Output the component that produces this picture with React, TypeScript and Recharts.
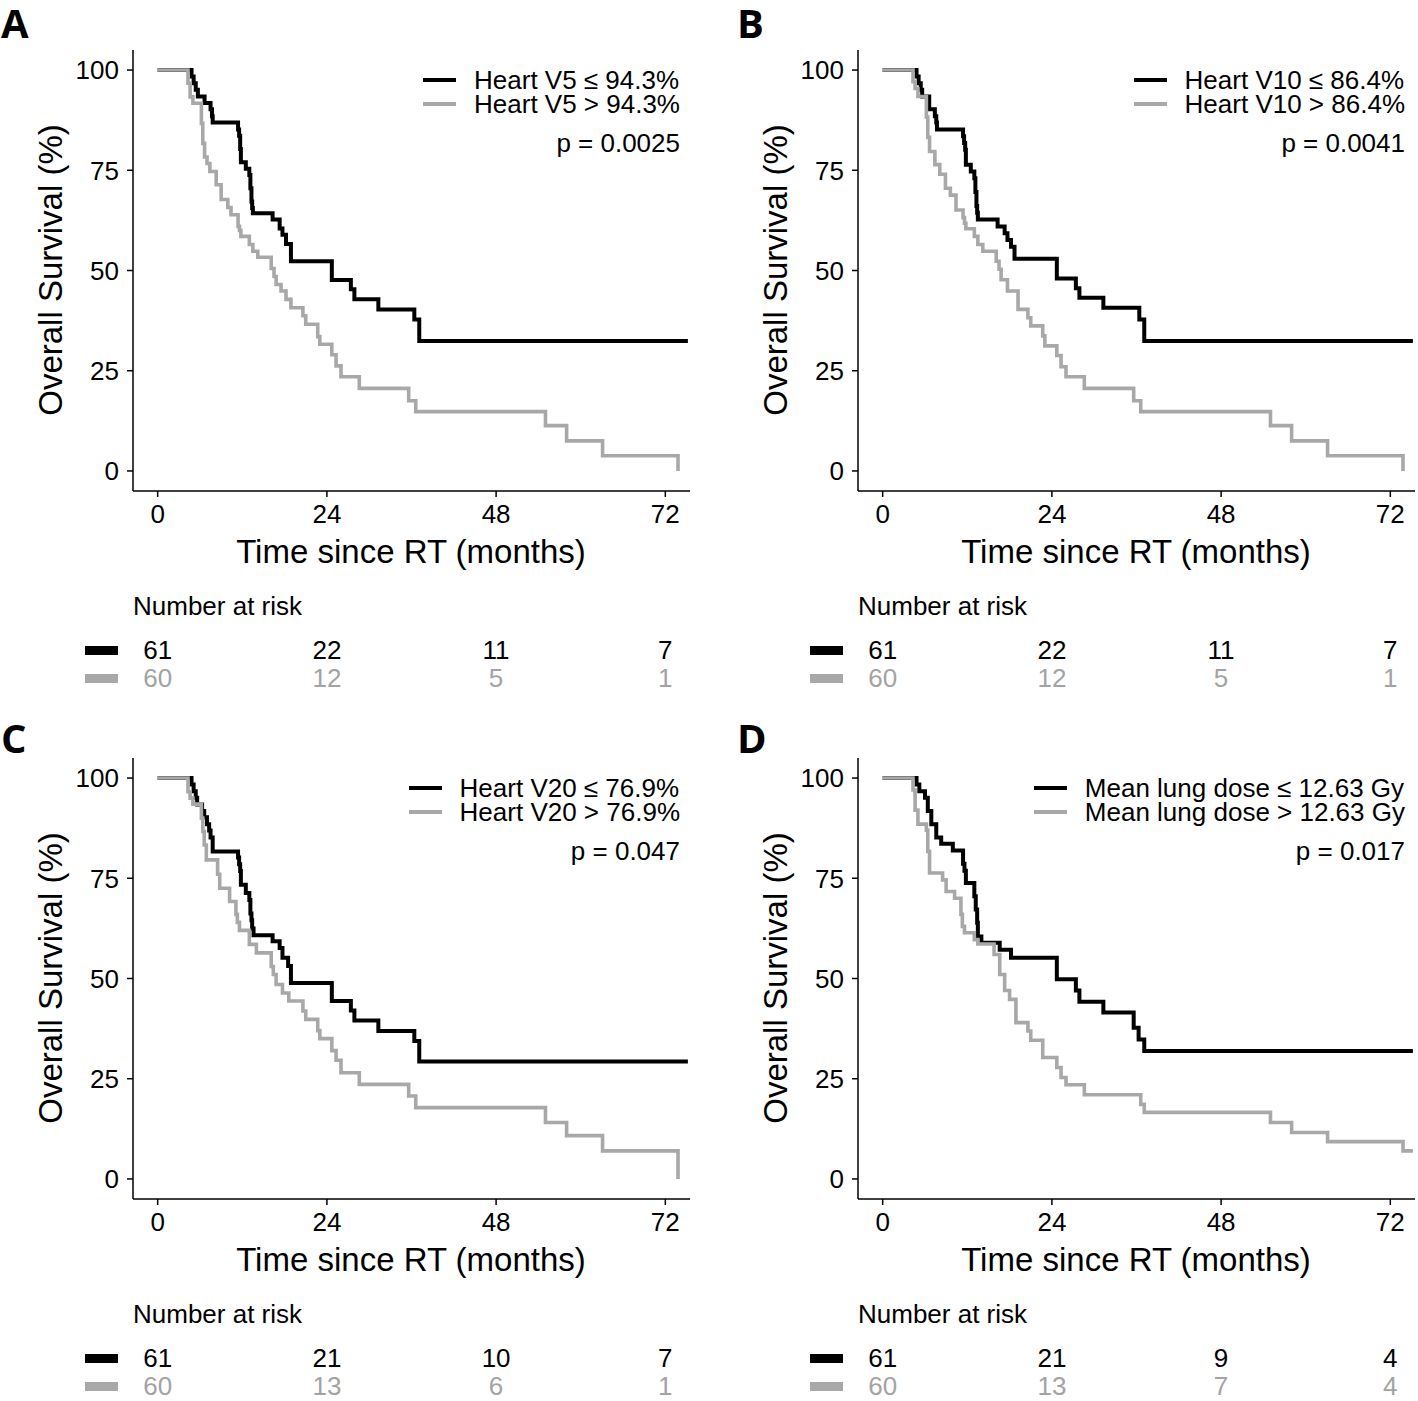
import React from "react";
import { LineChart, Line, XAxis, YAxis } from "recharts";

const FONT = '"Liberation Sans", Arial, Helvetica, sans-serif';
const BLACK = "#000000";
const GREY = "#a8a8a8";
const GREY_TEXT = "#a3a3a3";

const timeTicks = [0, 24, 48, 72];
const survTicks = [0, 25, 50, 75, 100];
const riskTimes = [0, 24, 48, 72];

// Panel A: Heart V5
const aLowT = [0, 4.8, 5.1, 5.4, 5.7, 6.65, 7.5, 7.7, 7.8, 11.4, 11.55, 11.7, 11.8, 12.5, 13.0, 13.15, 13.3, 13.4, 13.5, 16.3, 17.3, 17.7, 18.2, 18.9, 24.7, 27.4, 27.9, 31.3, 36.4, 37.1, 75.2];
const aLowS = [100, 98.4, 96.7, 95.1, 93.4, 91.8, 90.2, 88.5, 86.9, 85.2, 83.6, 80.3, 77.0, 75.4, 73.8, 70.5, 67.2, 65.6, 64.3, 62.7, 60.5, 58.9, 56.6, 52.3, 47.6, 45.3, 42.8, 40.3, 37.8, 32.4, 32.4];
const aHighT = [0, 4.3, 4.6, 5.0, 6.2, 6.4, 6.65, 7.0, 7.4, 8.3, 9.0, 9.95, 10.4, 11.4, 11.6, 11.8, 13.0, 13.5, 14.2, 16.1, 16.5, 16.8, 17.5, 18.2, 18.9, 20.6, 21.0, 22.7, 23.0, 24.7, 25.3, 26.0, 28.6, 35.6, 36.6, 55.0, 58.0, 63.1, 73.8];
const aHighS = [100, 96.7, 93.3, 91.7, 86.7, 81.7, 78.3, 76.7, 74.7, 71.4, 67.7, 65.7, 63.9, 61.0, 60.0, 58.5, 56.5, 54.8, 53.3, 50.5, 48.5, 46.5, 44.9, 42.8, 40.7, 38.7, 36.6, 33.5, 31.6, 29.0, 26.2, 23.5, 20.6, 17.5, 14.8, 11.3, 7.5, 3.8, 0];
const aRiskLow = [61, 22, 11, 7];
const aRiskHigh = [60, 12, 5, 1];

// Panel B: Heart V10
const bLowT = [0, 4.8, 5.1, 5.4, 5.6, 6.6, 7.4, 7.6, 7.7, 11.4, 11.55, 11.7, 11.8, 12.5, 13.0, 13.15, 13.3, 13.4, 13.5, 16.3, 17.3, 17.7, 18.2, 18.7, 24.7, 27.4, 27.9, 31.3, 36.4, 37.1, 75.2];
const bLowS = [100, 98.4, 96.7, 95.1, 93.4, 90.2, 88.5, 86.9, 85.2, 83.5, 81.8, 80.1, 76.4, 74.7, 73.0, 69.6, 66.1, 64.4, 62.7, 61.0, 59.3, 57.6, 55.9, 52.9, 48.0, 45.6, 43.2, 40.7, 37.8, 32.4, 32.4];
const bHighT = [0, 4.3, 4.6, 5.0, 6.2, 6.4, 6.65, 7.4, 8.1, 8.9, 9.6, 10.4, 11.4, 11.6, 11.8, 13.0, 13.5, 14.2, 16.1, 16.5, 16.8, 17.7, 19.2, 20.6, 21.0, 22.7, 23.0, 24.7, 25.3, 26.0, 28.6, 35.6, 36.6, 55.0, 58.0, 63.1, 73.8];
const bHighS = [100, 97.1, 95.4, 93.4, 88.3, 83.2, 79.7, 76.4, 74.0, 70.5, 68.8, 65.1, 63.2, 61.8, 60.4, 58.5, 56.5, 54.8, 52.3, 50.3, 47.7, 44.9, 40.3, 38.2, 36.2, 33.7, 31.2, 28.8, 26.0, 23.5, 20.6, 17.5, 14.8, 11.3, 7.5, 3.8, 0];
const bRiskLow = [61, 22, 11, 7];
const bRiskHigh = [60, 12, 5, 1];

// Panel C: Heart V20
const cLowT = [0, 4.8, 5.1, 5.4, 5.6, 6.3, 6.6, 7.0, 7.3, 7.5, 7.8, 11.4, 11.55, 11.7, 11.8, 12.5, 13.0, 13.15, 13.3, 13.4, 13.6, 16.3, 17.3, 17.7, 18.5, 18.9, 24.7, 27.4, 27.9, 31.3, 36.4, 37.1, 75.2];
const cLowS = [100, 98.4, 96.7, 95.1, 93.4, 91.8, 90.2, 88.5, 86.9, 85.2, 81.7, 80.2, 78.5, 76.8, 73.4, 71.3, 69.6, 66.2, 64.5, 62.5, 60.8, 59.3, 57.6, 55.2, 53.1, 48.9, 44.4, 42.0, 39.5, 36.9, 34.4, 29.3, 29.3];
const cHighT = [0, 4.3, 4.6, 5.0, 6.2, 6.4, 6.6, 6.9, 8.5, 8.8, 10.2, 11.1, 11.3, 11.6, 13.0, 14.0, 16.1, 16.4, 16.8, 17.7, 18.6, 20.6, 21.0, 22.7, 23.0, 24.7, 25.3, 26.0, 28.6, 35.6, 36.6, 55.0, 58.0, 63.1, 73.8];
const cHighS = [100, 96.6, 95.0, 93.5, 90.0, 86.7, 83.3, 79.6, 76.0, 72.5, 69.2, 66.0, 64.0, 62.0, 58.5, 56.4, 53.0, 51.0, 48.5, 46.4, 44.4, 41.9, 39.8, 37.0, 35.0, 32.0, 29.6, 26.5, 23.6, 20.7, 17.8, 14.1, 10.8, 7.0, 0];
const cRiskLow = [61, 21, 10, 7];
const cRiskHigh = [60, 13, 6, 1];

// Panel D: mean lung dose
const dLowT = [0, 4.8, 5.2, 6.0, 6.4, 6.9, 7.6, 8.3, 9.95, 11.4, 11.6, 11.8, 13.0, 13.2, 13.4, 13.5, 14.0, 16.6, 18.2, 24.7, 27.4, 27.9, 31.3, 35.6, 36.3, 37.1, 75.2];
const dLowS = [100, 98.4, 96.7, 95.1, 91.8, 88.5, 85.2, 83.6, 81.9, 78.6, 76.9, 73.8, 70.5, 67.2, 63.9, 60.5, 58.9, 57.2, 55.2, 49.8, 47.0, 44.2, 41.5, 37.7, 34.8, 31.9, 31.9];
const dHighT = [0, 4.3, 4.6, 5.0, 6.2, 6.4, 6.65, 8.5, 9.0, 10.2, 11.1, 11.3, 11.6, 13.0, 13.5, 15.8, 16.6, 17.3, 18.0, 18.9, 20.6, 21.0, 22.7, 24.7, 25.3, 26.0, 28.6, 36.6, 37.1, 55.0, 58.0, 63.1, 73.8, 75.2];
const dHighS = [100, 97.0, 92.0, 88.5, 87.0, 81.7, 76.3, 74.6, 71.7, 70.0, 66.0, 63.0, 61.4, 59.7, 58.6, 56.0, 51.0, 47.0, 44.8, 39.0, 36.9, 34.6, 30.3, 27.8, 25.3, 23.5, 21.0, 18.6, 16.6, 14.1, 11.6, 9.3, 7.0, 7.0];
const dRiskLow = [61, 21, 9, 4];
const dRiskHigh = [60, 13, 7, 4];

type Pt = { t: number; s: number };
const zip = (t: number[], s: number[]): Pt[] => t.map((x, i) => ({ t: x, s: s[i] }));

const tickStyle = { fill: BLACK, fontSize: 26, fontFamily: FONT };
const axisStroke = { stroke: BLACK, strokeWidth: 1.5 };

function riskDot(color: string) {
  return (props: any) => (
    <text
      key={`r-${props.index}`}
      x={props.cx}
      y={props.cy}
      textAnchor="middle"
      dominantBaseline="central"
      fontSize={26}
      fontFamily={FONT}
      fill={color}
    >
      {props.payload.n}
    </text>
  );
}

interface PanelProps {
  dx: number;
  dy: number;
  lowT: number[];
  lowS: number[];
  highT: number[];
  highS: number[];
  labels: [string, string];
  p: string;
  riskLow: number[];
  riskHigh: number[];
}

// risk table rows: 28px apart, first row 42px below the table chart's top
const ROW_GAP = 28;
const RISK_H = 84;

function Panel({ dx, dy, lowT, lowS, highT, highS, labels, p, riskLow, riskHigh }: PanelProps) {
  const low = zip(lowT, lowS);
  const high = zip(highT, highS);
  const rowLow = riskTimes.map((t, i) => ({ t, row: 1, n: riskLow[i] }));
  const rowHigh = riskTimes.map((t, i) => ({ t, row: 2, n: riskHigh[i] }));

  return (
    <div style={{ position: "absolute", left: dx, top: dy, width: 700, height: 692 }}>
      <LineChart width={700} height={600} margin={{ top: 50, right: 10, left: 0, bottom: 79 }}>
        <XAxis
          type="number"
          dataKey="t"
          domain={[-3.5, 75.5]}
          ticks={timeTicks}
          interval={0}
          allowDataOverflow
          height={30}
          tick={tickStyle}
          tickSize={6}
          tickMargin={8}
          axisLine={axisStroke}
          tickLine={axisStroke}
        />
        <YAxis
          type="number"
          dataKey="s"
          domain={[-5, 105]}
          ticks={survTicks}
          interval={0}
          allowDataOverflow
          width={133}
          tick={tickStyle}
          tickSize={6}
          tickMargin={8}
          axisLine={axisStroke}
          tickLine={axisStroke}
        />
        <Line data={low} dataKey="s" type="stepAfter" stroke={BLACK} strokeWidth={4} dot={false} isAnimationActive={false} />
        <Line data={high} dataKey="s" type="stepAfter" stroke={GREY} strokeWidth={3.6} dot={false} isAnimationActive={false} />
      </LineChart>

      {/* axis titles */}
      <div
        style={{
          position: "absolute", left: 411, top: 551, transform: "translate(-50%, -50%)",
          fontFamily: FONT, fontSize: 33, lineHeight: 1, whiteSpace: "nowrap",
        }}
      >
        Time since RT (months)
      </div>
      <div
        style={{
          position: "absolute", left: 50, top: 270, transform: "translate(-50%, -50%) rotate(-90deg)",
          fontFamily: FONT, fontSize: 33, lineHeight: 1, whiteSpace: "nowrap",
        }}
      >
        Overall Survival (%)
      </div>

      {/* legend */}
      <div style={{ position: "absolute", right: 20, top: 68, fontFamily: FONT, fontSize: 26 }}>
        {labels.map((lab, i) => (
          <div key={lab} style={{ display: "flex", alignItems: "center", height: 24 }}>
            <div style={{ width: 33, height: 4, background: i === 0 ? BLACK : GREY, marginRight: 18 }} />
            <span style={{ lineHeight: "22px", whiteSpace: "nowrap" }}>{lab}</span>
          </div>
        ))}
      </div>
      <div
        style={{
          position: "absolute", right: 20, top: 143, transform: "translateY(-50%)",
          fontFamily: FONT, fontSize: 26, lineHeight: 1, whiteSpace: "nowrap",
        }}
      >
        {p}
      </div>

      {/* risk table */}
      <div
        style={{
          position: "absolute", left: 133, top: 606, transform: "translateY(-50%)",
          fontFamily: FONT, fontSize: 26, lineHeight: 1, whiteSpace: "nowrap",
        }}
      >
        Number at risk
      </div>
      <div style={{ position: "absolute", left: 85, top: 650 - 4.5, width: 33, height: 9, background: BLACK }} />
      <div style={{ position: "absolute", left: 85, top: 678 - 4.5, width: 33, height: 9, background: GREY }} />
      <div style={{ position: "absolute", left: 0, top: 608 }}>
        <LineChart width={700} height={RISK_H} margin={{ top: 0, right: 10, left: 133, bottom: 0 }}>
          <XAxis type="number" dataKey="t" domain={[-3.5, 75.5]} allowDataOverflow hide />
          <YAxis type="number" domain={[-0.5, -0.5 + RISK_H / ROW_GAP]} reversed allowDataOverflow hide />
          <Line data={rowLow} dataKey="row" stroke="none" dot={riskDot(BLACK)} isAnimationActive={false} />
          <Line data={rowHigh} dataKey="row" stroke="none" dot={riskDot(GREY_TEXT)} isAnimationActive={false} />
        </LineChart>
      </div>
    </div>
  );
}

const letterStyle: React.CSSProperties = {
  position: "absolute",
  fontFamily: '"Open Sans", "Noto Sans", sans-serif',
  fontWeight: 700,
  fontSize: 40,
  lineHeight: "44px",
  transform: "translateY(-50%)",
  paddingLeft: 1,
};

export default function App() {
  return (
    <div style={{ position: "absolute", left: 0, top: 0, width: 1418, height: 1401, background: "#fff", overflow: "hidden" }}>
      <Panel dx={0} dy={0} lowT={aLowT} lowS={aLowS} highT={aHighT} highS={aHighS}
        labels={["Heart V5 \u2264 94.3%", "Heart V5 > 94.3%"]} p="p = 0.0025" riskLow={aRiskLow} riskHigh={aRiskHigh} />
      <Panel dx={725} dy={0} lowT={bLowT} lowS={bLowS} highT={bHighT} highS={bHighS}
        labels={["Heart V10 \u2264 86.4%", "Heart V10 > 86.4%"]} p="p = 0.0041" riskLow={bRiskLow} riskHigh={bRiskHigh} />
      <Panel dx={0} dy={708} lowT={cLowT} lowS={cLowS} highT={cHighT} highS={cHighS}
        labels={["Heart V20 \u2264 76.9%", "Heart V20 > 76.9%"]} p="p = 0.047" riskLow={cRiskLow} riskHigh={cRiskHigh} />
      <Panel dx={725} dy={708} lowT={dLowT} lowS={dLowS} highT={dHighT} highS={dHighS}
        labels={["Mean lung dose \u2264 12.63 Gy", "Mean lung dose > 12.63 Gy"]} p="p = 0.017" riskLow={dRiskLow} riskHigh={dRiskHigh} />

      <div style={{ ...letterStyle, left: 0, top: 23 }}>A</div>
      <div style={{ ...letterStyle, left: 736, top: 23 }}>B</div>
      <div style={{ ...letterStyle, left: 0, top: 738 }}>C</div>
      <div style={{ ...letterStyle, left: 736, top: 738 }}>D</div>
    </div>
  );
}
